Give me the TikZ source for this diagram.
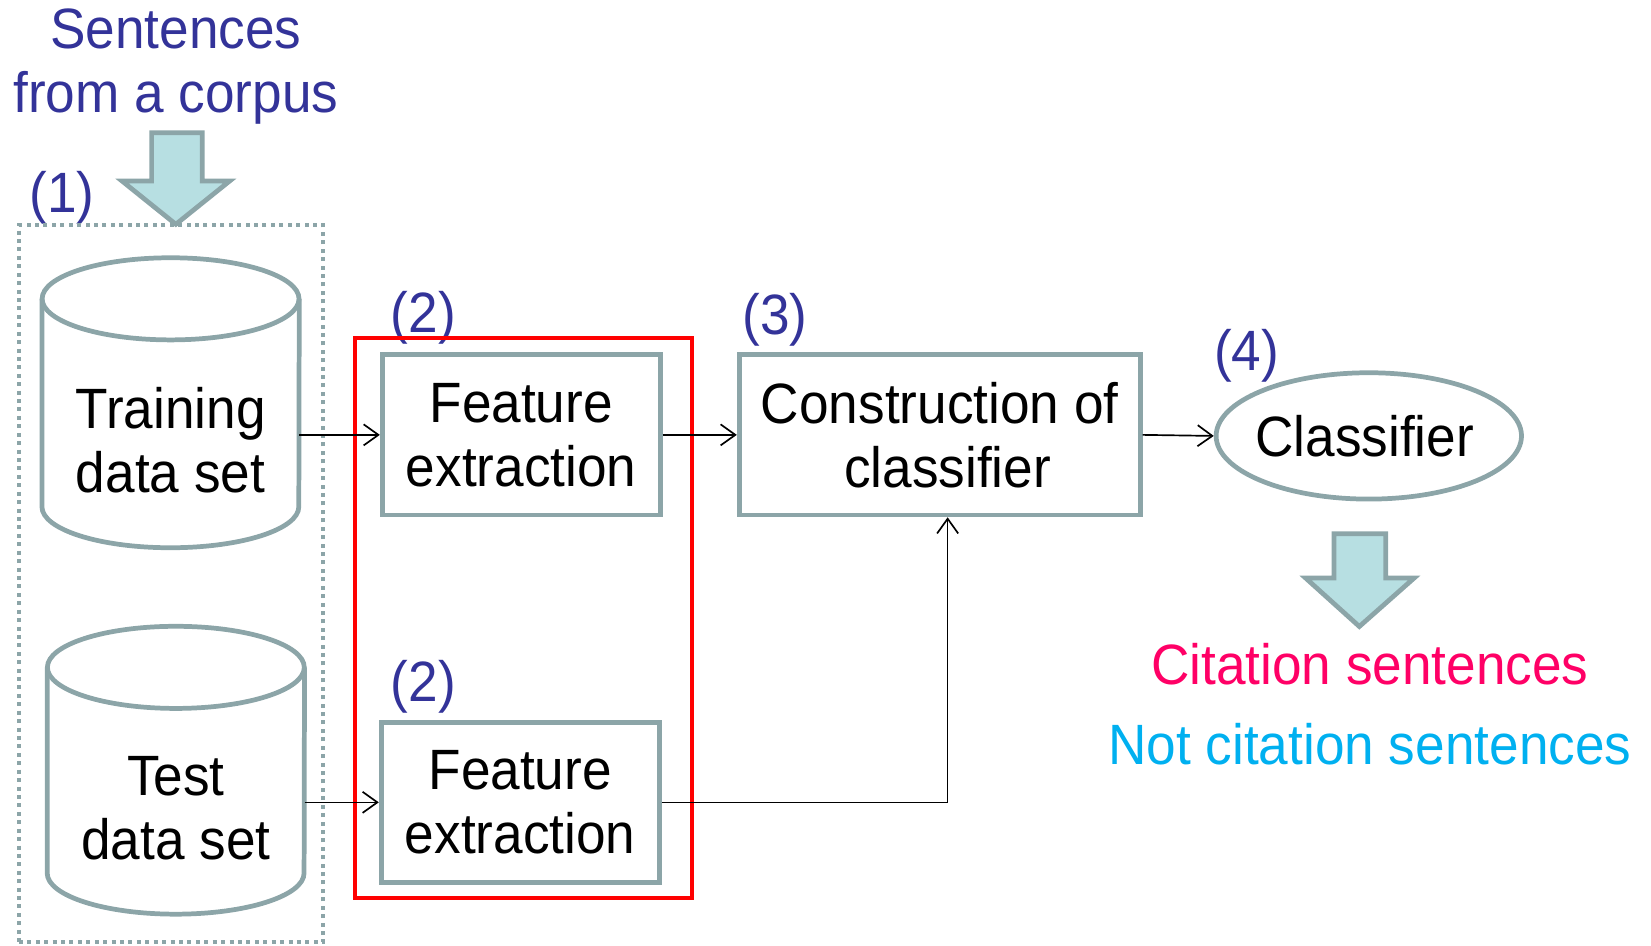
\documentclass[tikz,border=0pt]{standalone}
\usepackage{fontspec}
\setmainfont{Liberation Sans}[FakeStretch=0.935]
\usetikzlibrary{arrows.meta,shapes.geometric,calc}
\definecolor{navy}{RGB}{51,51,153}
\definecolor{slate}{RGB}{140,165,168}
\definecolor{icefill}{RGB}{183,223,226}
\definecolor{citered}{RGB}{255,0,102}
\definecolor{citeblue}{RGB}{0,176,240}
\begin{document}
\begin{tikzpicture}[x=1pt,y=1pt,
  txt/.style={font=\fontsize{54}{61}\selectfont, align=center, inner sep=0pt},
  lbl/.style={txt, text=navy, anchor=base},
  procbox/.style={draw=slate, line width=4.5pt, txt, minimum height=152pt},
  dbarea/.style={rectangle, draw=none, inner sep=0pt, minimum width=244pt},
  cyl/.style={draw=slate, line width=4.5pt},
  blockarrow/.style={draw=slate, fill=icefill, line width=4.5pt, line join=miter},
  conn/.style={draw=black, line width=1.6pt, -{Straight Barb[length=14pt,width=20pt]}}]
\useasboundingbox (0,0) rectangle (1568,-898);

% input text and arrow into the data sets
\node[txt, text=navy] (src) at (167,-63) {Sentences\\from a corpus};
\path[blockarrow] (144,-126) -- (192,-126) -- (192,-172) -- (218,-172)
  -- (167,-213) -- (116,-172) -- (144,-172) -- cycle;

% step labels
\node[lbl] (l1) at (59,-202) {(1)};
\node[lbl] (l2a) at (402,-316) {(2)};
\node[lbl] (l2b) at (402,-666) {(2)};
\node[lbl] (l3) at (736,-318) {(3)};
\node[lbl] (l4) at (1184,-352) {(4)};

% data set group and feature extraction group
\node[draw=slate, line width=3.8pt, dash pattern=on 3.8pt off 4.2pt,
  minimum width=289pt, minimum height=681pt, inner sep=0pt] (grp) at (162.5,-554.5) {};
\node[draw=red, line width=4.2pt, minimum width=320pt, minimum height=532pt,
  inner sep=0pt] (fx) at (497,-587) {};

% cylinders
\node[dbarea, minimum height=275pt] (train) at (162,-382.5) {};
\draw[cyl] ([yshift=-39pt]train.north west) -- ([yshift=39pt]train.south west)
  arc[start angle=180, end angle=360, x radius=122pt, y radius=39pt]
  -- ([yshift=-39pt]train.north east);
\draw[cyl] ([yshift=-39pt]train.north) ellipse[x radius=122pt, y radius=39pt];
\node[txt] (traintxt) at (162,-418) {Training\\data set};

\node[dbarea, minimum height=273pt] (test) at (167,-731.5) {};
\draw[cyl] ([yshift=-39pt]test.north west) -- ([yshift=39pt]test.south west)
  arc[start angle=180, end angle=360, x radius=122pt, y radius=39pt]
  -- ([yshift=-39pt]test.north east);
\draw[cyl] ([yshift=-39pt]test.north) ellipse[x radius=122pt, y radius=39pt];
\node[txt] (testtxt) at (167,-767.5) {Test\\data set};

% processing boxes
\node[procbox, minimum width=264pt] (fe1) at (495,-413) {Feature\\extraction};
\node[procbox, minimum width=264pt] (fe2) at (494,-762) {Feature\\extraction};
\node[procbox, minimum width=381pt] (cons) at (892.5,-413)
  {Construction of\\\hspace*{15pt}classifier};
\node[ellipse, draw=slate, line width=4.5pt, txt, minimum width=290pt,
  minimum height=120pt] (clf) at (1300,-414) {\hspace*{-8pt}Classifier};

% connectors
\draw[conn] (train.east |- fe1.west) -- (fe1.west);
\draw[conn] (test.east |- fe2.west) -- (fe2.west);
\draw[conn] (fe1.east) -- (cons.west);
\draw[conn] (cons.east) -- (clf.west);
\draw[conn] (fe2.east) -| ([xshift=7.5pt]cons.south);

% output arrow and classes
\path[blockarrow] (1267,-507) -- (1316,-507) -- (1316,-549) -- (1343,-549)
  -- (1291,-595) -- (1240,-549) -- (1267,-549) -- cycle;
\node[txt, text=citered, anchor=base] (cite) at (1301,-650) {Citation sentences};
\node[txt, text=citeblue, anchor=base] (notcite) at (1301,-726) {Not citation sentences};
\end{tikzpicture}
\end{document}
